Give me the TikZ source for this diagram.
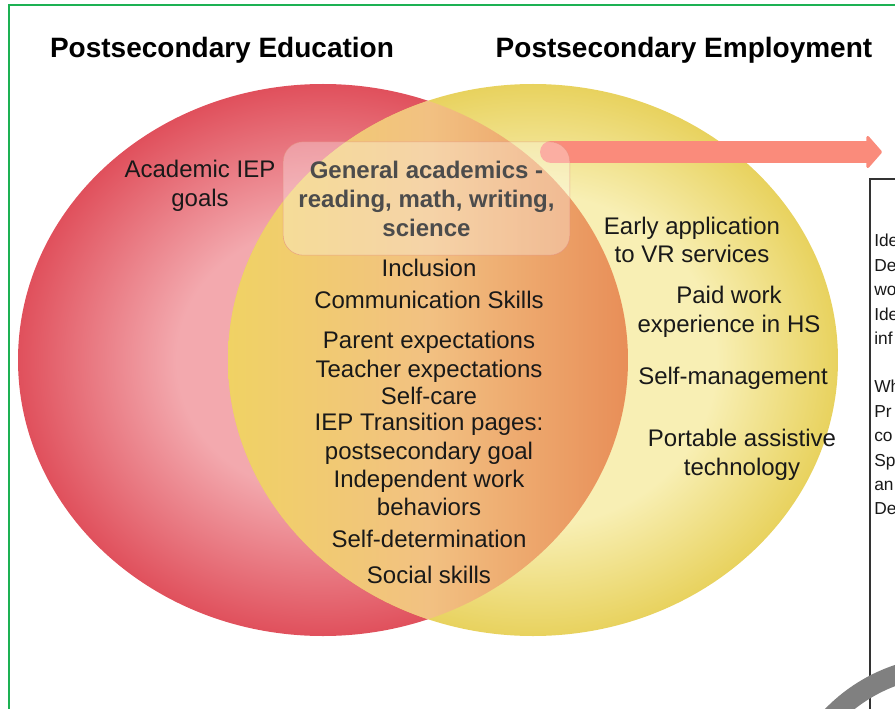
\documentclass[tikz,border=0pt]{standalone}
\usepackage{fontspec}
\setmainfont{Liberation Sans}
\usetikzlibrary{arrows.meta}

\definecolor{redout}{HTML}{E0505C}
\definecolor{redin}{HTML}{F3A9AE}
\definecolor{yelout}{HTML}{E8D25E}
\definecolor{yelin}{HTML}{F8EFB4}
\definecolor{lensL}{HTML}{F0D264}
\definecolor{lensM}{HTML}{F2C182}
\definecolor{lensR}{HTML}{E88E58}
\definecolor{salmon}{HTML}{FA8B7B}
\definecolor{hiedge}{HTML}{E58F7F}
\definecolor{frame}{HTML}{1DB153}

\pgfdeclareradialshading[redin,redout]{redball}{\pgfpoint{0bp}{0bp}}{color(0bp)=(redin); color(12bp)=(redin); color(25bp)=(redout); color(50bp)=(redout)}
\pgfdeclareradialshading[yelin,yelout]{yelball}{\pgfpoint{0bp}{0bp}}{color(0bp)=(yelin); color(15bp)=(yelin); color(25bp)=(yelout); color(50bp)=(yelout)}
\pgfdeclarehorizontalshading[lensL,lensM,lensR]{lensfill}{100bp}{color(0bp)=(lensL); color(25bp)=(lensL); color(50bp)=(lensM); color(75bp)=(lensR); color(100bp)=(lensR)}

\begin{document}
\begin{tikzpicture}[
		x=0.75pt, y=-0.75pt,
		heading/.style={font=\bfseries\fontsize{21}{25}\selectfont, text=black},
		item/.style={font=\fontsize{18}{21.5}\selectfont, align=center, text=black!90, inner sep=0pt},
		hilite/.style={draw=hiedge, draw opacity=0.7, fill=white, fill opacity=0.3, text opacity=1, rounded corners=15pt, minimum width=215pt, minimum height=85pt, align=center, text=black!70, font=\bfseries\fontsize{18}{21.75}\selectfont},
		pointer/.style={draw=salmon, line width=16.5pt, line cap=round, -{Triangle[length=12pt, width=27pt, line width=2pt, round]}},
		infopanel/.style={draw=black!80, line width=1.5pt, fill=white, minimum width=80pt, minimum height=420pt, anchor=north west},
		infolines/.style={font=\fontsize{13}{18.3}\selectfont, align=left, inner sep=0pt, anchor=north west, text=black!90},
		swoosh/.style={draw=black!50, line width=15pt},
		border/.style={draw=frame, line width=1.5pt},
	]
		\useasboundingbox (0,0) rectangle (895,709);
		\clip (0,0) rectangle (895,709);

		\shade[shading=redball] (323,360) ellipse [x radius=228.75pt, y radius=207pt];
		\shade[shading=yelball] (533,360) ellipse [x radius=228.75pt, y radius=207pt];
		\begin{scope}
			\clip (323,360) ellipse [x radius=228.75pt, y radius=207pt];
			\clip (533,360) ellipse [x radius=228.75pt, y radius=207pt];
			\shade[shading=lensfill] (228,80) rectangle (628,640);
		\end{scope}

		\node (edu) [heading] at (222,50) {Postsecondary Education};
		\node (emp) [heading] at (684,50) {Postsecondary Employment};

		\coordinate (arrowstart) at (551,152);
		\coordinate (arrowtip) at (882,152);
		\draw[pointer] (arrowstart) -- (arrowtip);

		\node (genacad) [hilite] at (426.5,198.5) {General academics -\\reading, math, writing,\\science};

		\node (academic) [item] at (200,186) {Academic IEP\\goals};

		\node (incl) [item] at (429,268) {Inclusion};
		\node (commsk) [item] at (429,300) {Communication Skills};
		\node (parentexp) [item] at (429,342) {Parent expectations};
		\node (teacherexp) [item] at (429,371) {Teacher expectations};
		\node (selfcare) [item] at (429,396) {Self-care};
		\node (ieptrans) [item] at (429,439) {IEP Transition pages:\\postsecondary goal};
		\node (indwork) [item] at (429,493) {Independent work\\behaviors};
		\node (selfdet) [item] at (429,539) {Self-determination};
		\node (social) [item] at (429,575) {Social skills};

		\node (earlyvr) [item] at (692,240) {Early application\\to VR services};
		\node (paidwork) [item] at (729,312) {Paid work\\experience in HS};
		\node (selfmgmt) [item] at (733,378) {Self-management};
		\node (portable) [item] at (742,455) {Portable assistive\\technology};

		\node (infobox) [infopanel] at (869,178) {};
		\node (infotext) [infolines] at (874,234) {Ide\\De\\wo\\Ide\\inf\\[18pt]Wh\\Pr\\co\\Sp\\an\\De};

		\coordinate (swooshc) at (950,830);
		\draw[swoosh] ([shift={(140:123pt)}]swooshc) arc[start angle=140, end angle=100, radius=123pt];

		\draw[border] (9,5) rectangle (910,730);
	\end{tikzpicture}
\end{document}
